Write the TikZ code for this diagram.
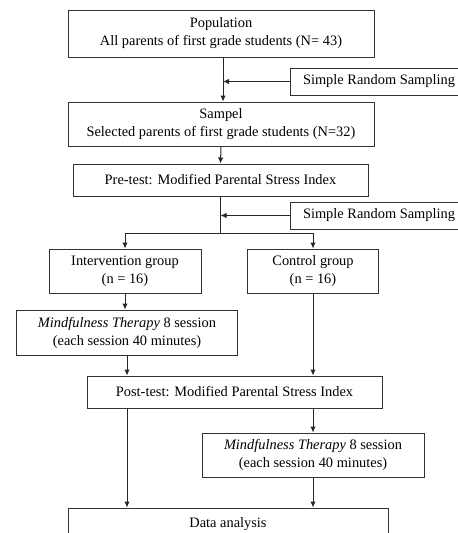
\documentclass[tikz,border=0pt]{standalone}
\usepackage{fontspec}
\setmainfont{Liberation Serif}
\usetikzlibrary{arrows.meta,calc}
\begin{document}
\begin{tikzpicture}[x=1pt,y=-1pt,
  box/.style={draw=black!80,line width=1pt,align=center,inner sep=0pt,
    font=\fontsize{14.4}{18}\selectfont},
  arr/.style={draw=black!85,line width=1pt,-{Latex[length=6pt,width=5.5pt]}},
  ln/.style={draw=black!85,line width=1pt}]
\useasboundingbox (0,0) rectangle (458,533);
\clip (0,0) rectangle (458,533);
\node[box,minimum width=306,minimum height=47] (pop) at (221,33.5) {Population\\All parents of first grade students (N= 43)};
\node[box,minimum width=178,minimum height=27] (srs1) at (379,81.5) {Simple Random Sampling};
\node[box,minimum width=306,minimum height=44] (samp) at (221,124) {Sampel\\Selected parents of first grade students (N=32)};
\node[box,minimum width=295,minimum height=32] (pre) at (220.5,180) {Pre-test: Modified Parental Stress Index};
\node[box,minimum width=178,minimum height=27] (srs2) at (379,215.5) {Simple Random Sampling};
\node[box,minimum width=152,minimum height=44] (int) at (125,271) {Intervention group\\(n = 16)};
\node[box,minimum width=131,minimum height=44] (ctrl) at (313,271) {Control group\\(n = 16)};
\node[box,minimum width=221,minimum height=45] (mf1) at (127,332.5) {\textit{Mindfulness Therapy} 8 session\\(each session 40 minutes)};
\node[box,minimum width=295,minimum height=32] (post) at (234.5,392) {Post-test: Modified Parental Stress Index};
\node[box,minimum width=222,minimum height=44] (mf2) at (313,455) {\textit{Mindfulness Therapy} 8 session\\(each session 40 minutes)};
\node[box,minimum width=320,minimum height=32] (data) at (228,524) {Data analysis};
% connectors
\coordinate (m1) at ($(pop.south)+(2,0)$);
\coordinate (m1b) at (m1 |- samp.north);
\draw[arr] (m1) -- (m1b);
\draw[arr] (srs1.west) -- (m1 |- srs1.west);
\draw[arr] (samp.south) -- (pre.north);
\coordinate (split) at (pre.south |- 0,233);
\draw[ln] (pre.south) -- (split);
\draw[arr] (srs2.west) -- (pre.south |- srs2.west);
\draw[arr] (split) -| (int.north);
\draw[arr] (split) -| (ctrl.north);
\draw[arr] (int.south) -- (int.south |- mf1.north);
\draw[arr] (mf1.south) -- (mf1.south |- post.north);
\draw[arr] (ctrl.south) -- (ctrl.south |- post.north);
\draw[arr] (post.south -| mf2.north) -- (mf2.north);
\draw[arr] (post.south -| mf1.south) -- (data.north -| mf1.south);
\draw[arr] (mf2.south) -- (mf2.south |- data.north);
\end{tikzpicture}
\end{document}
